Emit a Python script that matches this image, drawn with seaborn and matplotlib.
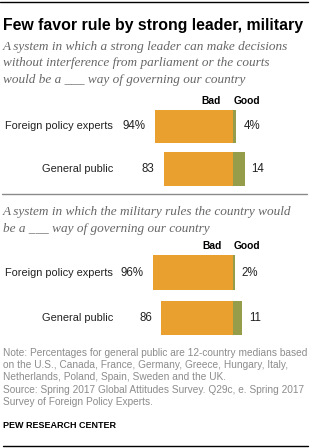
import matplotlib
matplotlib.use("Agg")
import matplotlib.pyplot as plt
import seaborn as sns

# data
groups = ["Foreign policy experts", "General public"]
leader_bad = [94, 83]
leader_good = [4, 14]
military_bad = [96, 86]
military_good = [2, 11]

title = "Few favor rule by strong leader, military"
sub1 = ["A system in which a strong leader can make decisions",
        "without interference from parliament or the courts",
        "would be a ___ way of governing our country"]
sub2 = ["A system in which the military rules the country would",
        "be a ___ way of governing our country"]
notes = ["Note: Percentages for general public are 12-country medians based",
         "on the U.S., Canada, France, Germany, Greece, Hungary, Italy,",
         "Netherlands, Poland, Spain, Sweden and the UK.",
         "Source: Spring 2017 Global Attitudes Survey. Q29c, e. Spring 2017",
         "Survey of Foreign Policy Experts."]

ORANGE = "#e9a02f"
GREEN = "#959d4b"
SANS = "Liberation Sans"
SERIF = "Liberation Serif"
SUB_COLOR = "#666666"

W, H = 311, 448
SPLIT = 233      # pixel x where bad/good meet
SCALE = 0.835    # pixels per percentage point

sns.set_theme(style="white")
plt.rcParams["font.family"] = [SANS, "DejaVu Sans"]

fig = plt.figure(figsize=(W / 100, H / 100), dpi=100)
renderer = fig.canvas.get_renderer()


def fy(y):
    return 1 - y / H


def fit(t, width):
    w = t.get_window_extent(renderer).width
    t.set_fontsize(t.get_fontsize() * width / w)
    return t.get_fontsize()


def ftext(x, y, s, **kw):
    return fig.text(x / W, fy(y), s, va="baseline", **kw)


# rules
fig.add_artist(plt.Line2D([0, 308 / W], [fy(2), fy(2)], color="black", lw=1))
fig.add_artist(plt.Line2D([2 / W, 307 / W], [fy(194.3), fy(194.3)], color="#8a8a8a", lw=1))
fig.add_artist(plt.Line2D([3 / W, 308 / W], [fy(445.7), fy(445.7)], color="black", lw=1))

t = ftext(3, 30, title, fontsize=12, fontweight="bold", color="black")
fit(t, 299)

t = ftext(3, 50, sub1[0], fontsize=8, family=SERIF, style="italic", color=SUB_COLOR)
sub_size = fit(t, 287)
for y, s in zip([66, 82.5], sub1[1:]):
    ftext(3, y, s, fontsize=sub_size, family=SERIF, style="italic", color=SUB_COLOR)
for y, s in zip([215, 231.5], sub2):
    ftext(3, y, s, fontsize=sub_size, family=SERIF, style="italic", color=SUB_COLOR)

t = ftext(3, 355.7, notes[0], fontsize=7, color="#8c8c8c")
note_size = fit(t, 305)
for i, s in enumerate(notes[1:]):
    ftext(3, 355.7 + 12.4 * (i + 1), s, fontsize=note_size, color="#8c8c8c")

t = ftext(3, 427.5, "PEW RESEARCH CENTER", fontsize=7, fontweight="bold", color="black")
fit(t, 114)

t = ftext(246.7, 104.3, "Good", fontsize=8, fontweight="bold", ha="center", color="black")
head_size = fit(t, 27)
ftext(211, 104.3, "Bad", fontsize=head_size, fontweight="bold", ha="center", color="black")
ftext(212, 248.7, "Bad", fontsize=head_size, fontweight="bold", ha="center", color="black")
ftext(246.7, 248.7, "Good", fontsize=head_size, fontweight="bold", ha="center", color="black")

# measure label sizes once
t = fig.text(0, 0, groups[0], fontsize=8)
label_size = fit(t, 109)
t.remove()
t = fig.text(0, 0, "94%", fontsize=8)
val_size = fit(t, 23)
t.remove()


def panel(ax, bad, good, bar_w):
    sns.barplot(x=[-b for b in bad], y=groups, orient="h", color=ORANGE,
                saturation=1, width=bar_w, linewidth=0, ax=ax)
    sns.barplot(x=good, y=groups, orient="h", color=GREEN,
                saturation=1, width=bar_w, linewidth=0, ax=ax)
    ax.set_xlim(-SPLIT / SCALE, (W - SPLIT) / SCALE)
    ax.set_ylim(1.5, -0.5)
    ax.axis("off")
    for i, (name, b, g) in enumerate(zip(groups, bad, good)):
        suffix = "%" if i == 0 else ""
        ax.text((113 - SPLIT) / SCALE, i, name, ha="right", va="center",
                fontsize=label_size, color="#222222")
        ax.annotate(f"{b}{suffix}", xy=(-b, i), xytext=(-6.5, 0),
                    textcoords="offset points", ha="right", va="center",
                    fontsize=val_size, color="#222222")
        ax.annotate(f"{g}{suffix}", xy=(g, i), xytext=(5, 0),
                    textcoords="offset points", ha="left", va="center",
                    fontsize=val_size, color="#222222")


ax1 = fig.add_axes([0, fy(190.3), 1, 85.2 / H])
panel(ax1, leader_bad, leader_good, 0.775)

ax2 = fig.add_axes([0, fy(340.3), 1, 90.4 / H])
panel(ax2, military_bad, military_good, 0.76)

fig.savefig("out.png", dpi=100)
